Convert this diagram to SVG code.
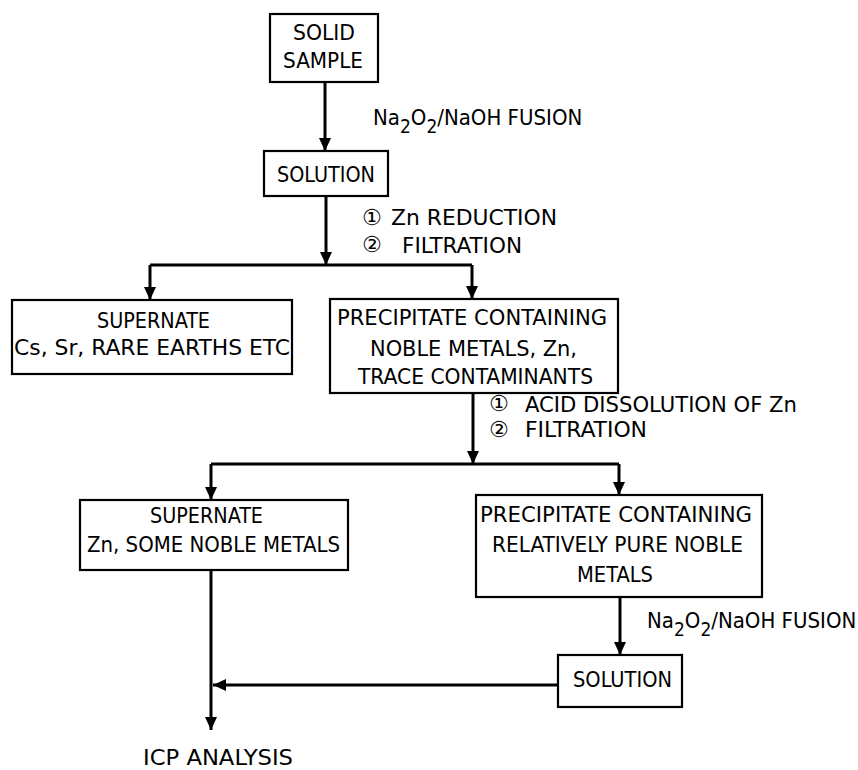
<svg xmlns="http://www.w3.org/2000/svg" width="858" height="770" viewBox="0 0 858 770">
<style>
.box{fill:#fff;stroke:#000;stroke-width:2.2}
.t{font-family:"Liberation Sans Narrow","DejaVu Sans Condensed","Liberation Sans",sans-serif;font-size:22px;fill:#000}
.c{font-family:"DejaVu Sans",sans-serif;font-size:22px;fill:#000}
.ln{fill:none;stroke:#000;stroke-width:3}
</style>
<defs>
<marker id="ah" markerUnits="userSpaceOnUse" markerWidth="14" markerHeight="14" refX="13" refY="7" orient="auto">
<path d="M0,1 L13,7 L0,13 Z" fill="#000"/>
</marker>
</defs>
<rect width="858" height="770" fill="#fff"/>
<g id="connectors">
<path class="ln" d="M325,82 V151" marker-end="url(#ah)"/>
<path class="ln" d="M326,196 V265" marker-end="url(#ah)"/>
<path class="ln" d="M150,265 H472"/>
<path class="ln" d="M150,265 V300" marker-end="url(#ah)"/>
<path class="ln" d="M472,265 V299" marker-end="url(#ah)"/>
<path class="ln" d="M473,393 V464" marker-end="url(#ah)"/>
<path class="ln" d="M211,464 H619"/>
<path class="ln" d="M211,464 V500" marker-end="url(#ah)"/>
<path class="ln" d="M619,464 V495" marker-end="url(#ah)"/>
<path class="ln" d="M211,570 V730" marker-end="url(#ah)"/>
<path class="ln" d="M620,597 V655" marker-end="url(#ah)"/>
<path class="ln" d="M558,685 H213" marker-end="url(#ah)"/>
</g>
<g id="solid-sample">
<rect class="box" x="270" y="14" width="108" height="68"/>
<text class="t" x="293" y="40" textLength="62" lengthAdjust="spacingAndGlyphs">SOLID</text>
<text class="t" x="283" y="68" textLength="80" lengthAdjust="spacingAndGlyphs">SAMPLE</text>
</g>
<g id="label-fusion-1">
<text class="t" x="373" y="125">Na<tspan dy="8" font-size="19">2</tspan><tspan dy="-8">O</tspan><tspan dy="8" font-size="19">2</tspan><tspan dy="-8">/NaOH FUSION</tspan></text>
</g>
<g id="solution-1">
<rect class="box" x="264" y="151" width="124" height="45"/>
<text class="t" x="277" y="182" textLength="98" lengthAdjust="spacingAndGlyphs">SOLUTION</text>
</g>
<g id="label-zn">
<text class="c" x="362" y="225">①</text>
<text class="t" x="391" y="225" textLength="166" lengthAdjust="spacingAndGlyphs">Zn REDUCTION</text>
<text class="c" x="362" y="252">②</text>
<text class="t" x="402" y="253" textLength="120" lengthAdjust="spacingAndGlyphs">FILTRATION</text>
</g>
<g id="supernate-1">
<rect class="box" x="12" y="300" width="280" height="74"/>
<text class="t" x="97" y="328" textLength="113" lengthAdjust="spacingAndGlyphs">SUPERNATE</text>
<text class="t" x="14" y="355" textLength="276" lengthAdjust="spacingAndGlyphs">Cs, Sr, RARE EARTHS ETC</text>
</g>
<g id="precipitate-1">
<rect class="box" x="330" y="299" width="288" height="94"/>
<text class="t" x="337" y="325" textLength="270" lengthAdjust="spacingAndGlyphs">PRECIPITATE CONTAINING</text>
<text class="t" x="370" y="356" textLength="207" lengthAdjust="spacingAndGlyphs">NOBLE METALS, Zn,</text>
<text class="t" x="358" y="384" textLength="235" lengthAdjust="spacingAndGlyphs">TRACE CONTAMINANTS</text>
</g>
<g id="label-acid">
<text class="c" x="489" y="411">①</text>
<text class="t" x="525" y="412" textLength="272" lengthAdjust="spacingAndGlyphs">ACID DISSOLUTION OF Zn</text>
<text class="c" x="489" y="437">②</text>
<text class="t" x="525" y="437" textLength="122" lengthAdjust="spacingAndGlyphs">FILTRATION</text>
</g>
<g id="supernate-2">
<rect class="box" x="80" y="500" width="268" height="70"/>
<text class="t" x="150" y="523" textLength="113" lengthAdjust="spacingAndGlyphs">SUPERNATE</text>
<text class="t" x="87" y="552" textLength="253" lengthAdjust="spacingAndGlyphs">Zn, SOME NOBLE METALS</text>
</g>
<g id="precipitate-2">
<rect class="box" x="476" y="495" width="286" height="102"/>
<text class="t" x="480" y="522" textLength="272" lengthAdjust="spacingAndGlyphs">PRECIPITATE CONTAINING</text>
<text class="t" x="492" y="552" textLength="251" lengthAdjust="spacingAndGlyphs">RELATIVELY PURE NOBLE</text>
<text class="t" x="577" y="582" textLength="76" lengthAdjust="spacingAndGlyphs">METALS</text>
</g>
<g id="label-fusion-2">
<text class="t" x="647" y="628">Na<tspan dy="8" font-size="19">2</tspan><tspan dy="-8">O</tspan><tspan dy="8" font-size="19">2</tspan><tspan dy="-8">/NaOH FUSION</tspan></text>
</g>
<g id="solution-2">
<rect class="box" x="558" y="655" width="124" height="52"/>
<text class="t" x="573" y="687" textLength="99" lengthAdjust="spacingAndGlyphs">SOLUTION</text>
</g>
<g id="icp-analysis">
<text class="t" x="143" y="765" textLength="150" lengthAdjust="spacingAndGlyphs">ICP ANALYSIS</text>
</g>
</svg>
